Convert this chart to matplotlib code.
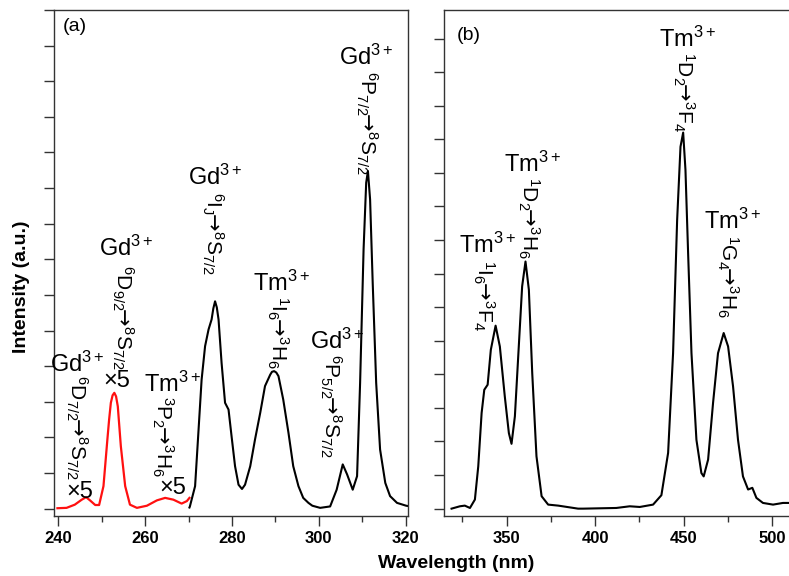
import matplotlib
matplotlib.use('Agg')
import matplotlib.pyplot as plt
from matplotlib.ticker import MultipleLocator

plt.rcParams['font.family'] = ['Liberation Sans', 'DejaVu Sans']
plt.rcParams['mathtext.fontset'] = 'custom'
plt.rcParams['mathtext.rm'] = 'Liberation Sans'
plt.rcParams['mathtext.it'] = 'Liberation Sans:italic'
plt.rcParams['mathtext.bf'] = 'Liberation Sans:bold'
plt.rcParams['mathtext.sf'] = 'DejaVu Sans'
plt.rcParams['mathtext.default'] = 'regular'

# panel (a), red part (x5)
wl_red = [239.8, 241.9, 243.8, 245.4, 246.4, 247.3, 248.5, 249.4, 250.4, 251.3, 251.7,
          252.1, 252.5, 252.9, 253.3, 253.7, 254.4, 255.4, 256.5, 258.1, 260.4, 262.7,
          264.6, 266.5, 268.4, 269.6, 270.2]
i_red = [0.01, 0.02, 0.11, 0.25, 0.32, 0.23, 0.10, 0.10, 0.63, 1.94, 2.50,
         2.97, 3.18, 3.25, 3.15, 2.87, 1.75, 0.63, 0.11, 0.02, 0.08, 0.23,
         0.30, 0.25, 0.14, 0.21, 0.30]

# panel (a), black part
wl_a = [270.2, 270.3, 271.5, 272.3, 273.0, 273.8, 274.6, 275.3, 275.7, 276.1, 276.5,
        276.9, 277.6, 278.4, 279.2, 279.9, 280.7, 281.5, 282.3, 283.0, 284.2, 285.3,
        286.5, 287.6, 288.8, 289.2, 289.7, 290.2, 290.7, 291.8, 293.0, 294.1, 295.3,
        296.4, 297.6, 298.5, 300.3, 302.6, 304.1, 305.5, 306.5, 307.8, 308.8, 309.5,
        310.3, 310.9, 311.3, 311.8, 312.4, 313.2, 314.1, 315.3, 316.4, 318.0, 320.1,
        320.6]
i_a = [0.03, 0.06, 0.63, 2.22, 3.62, 4.56, 5.03, 5.31, 5.62, 5.82, 5.65,
       5.31, 4.09, 2.97, 2.78, 2.03, 1.19, 0.67, 0.55, 0.67, 1.19, 1.94,
       2.69, 3.44, 3.76, 3.84, 3.86, 3.82, 3.72, 3.06, 2.13, 1.19, 0.63,
       0.30, 0.16, 0.08, 0.02, 0.06, 0.53, 1.24, 0.96, 0.53, 0.91, 3.53,
       7.28, 9.15, 9.48, 8.68, 6.34, 3.53, 1.66, 0.72, 0.35, 0.16, 0.08,
       0.07]

# panel (b)
wl_b = [318.9, 323.6, 326.4, 329.3, 332.1, 334.0, 335.9, 337.4, 339.3, 341.1, 343.8,
        346.2, 349.0, 351.3, 352.8, 354.7, 356.9, 358.8, 360.7, 362.6, 364.5, 366.9,
        369.8, 373.5, 379.2, 390.4, 393.3, 412.0, 419.6, 425.3, 432.8, 437.5, 441.3,
        444.1, 446.4, 448.3, 449.8, 451.1, 452.6, 454.5, 457.3, 460.1, 461.4, 463.9,
        466.7, 469.5, 472.7, 475.2, 478.0, 480.8, 483.6, 486.5, 488.9, 491.2, 494.9,
        500.6, 506.2, 509.4]
i_b = [0.00, 0.07, 0.09, 0.02, 0.27, 1.26, 2.85, 3.54, 3.69, 4.73, 5.45,
       4.83, 3.34, 2.25, 1.93, 2.75, 4.83, 6.62, 7.36, 6.52, 4.04, 1.56,
       0.37, 0.12, 0.09, 0.00, 0.00, 0.02, 0.07, 0.05, 0.12, 0.40, 1.66,
       4.63, 8.60, 10.78, 11.20, 10.09, 7.61, 4.63, 2.05, 1.06, 0.96, 1.46,
       3.15, 4.63, 5.23, 4.83, 3.64, 2.05, 0.96, 0.57, 0.62, 0.32, 0.17,
       0.12, 0.17, 0.17]


def trans(s1, l1, b1, s2, l2, b2):
    return (r'$^{%s}\mathrm{%s}_{%s}\!\!\mathsf{\rightarrow}\!^{%s}\mathrm{%s}_{%s}$'
            % (s1, l1, b1, s2, l2, b2))


GD = r'$\mathrm{Gd}^{3+}$'
TM = r'$\mathrm{Tm}^{3+}$'

# labels: (ion, x, y, transition, x, y)
labels_a = [
    (GD, 244.4, 4.05, trans('6', 'D', '7/2', '8', 'S', '7/2'), 244.3, 3.74),
    (GD, 255.7, 7.30, trans('6', 'D', '9/2', '8', 'S', '7/2'), 254.9, 6.85),
    (TM, 266.3, 3.48, trans('3', 'P', '2', '3', 'H', '6'), 264.1, 3.17),
    (GD, 276.1, 9.30, trans('6', 'I', 'J', '8', 'S', '7/2'), 275.6, 8.88),
    (TM, 291.3, 6.32, trans('1', 'I', '6', '3', 'H', '6'), 290.6, 5.98),
    (GD, 311.0, 12.68, trans('6', 'P', '7/2', '8', 'S', '7/2'), 310.9, 12.28),
    (GD, 304.2, 4.70, trans('6', 'P', '5/2', '8', 'S', '7/2'), 302.6, 4.33),
]
times5 = [(245.0, 0.47), (253.4, 3.57), (266.4, 0.58)]
labels_b = [
    (TM, 452.1, 13.99, trans('1', 'D', '2', '3', 'F', '4'), 450.1, 13.60),
    (TM, 364.6, 10.27, trans('1', 'D', '2', '3', 'H', '6'), 362.3, 9.88),
    (TM, 339.4, 7.83, trans('1', 'I', '6', '3', 'F', '4'), 337.2, 7.41),
    (TM, 477.5, 8.57, trans('1', 'G', '4', '3', 'H', '6'), 474.7, 8.15),
]

fig = plt.figure(figsize=(7.89, 5.76), dpi=100)
ax1 = fig.add_axes([0.0684, 0.1047, 0.4491, 0.8779])
ax2 = fig.add_axes([0.5631, 0.1047, 0.4400, 0.8779])

ax1.plot(wl_red, i_red, color='#ff1010', lw=1.6, solid_joinstyle='round')
ax1.plot(wl_a, i_a, color='black', lw=1.5, solid_joinstyle='round')
ax2.plot(wl_b, i_b, color='black', lw=1.5, solid_joinstyle='round')

ax1.set_xlim(239.0, 320.6)
ax1.set_ylim(-0.2, 14.0)
ax2.set_xlim(314.8, 511.0)
ax2.set_ylim(-0.21, 14.85)

ax1.xaxis.set_major_locator(MultipleLocator(20))
ax1.xaxis.set_minor_locator(MultipleLocator(10))
ax2.xaxis.set_major_locator(MultipleLocator(50))
ax2.xaxis.set_minor_locator(MultipleLocator(25))
for ax in (ax1, ax2):
    ax.yaxis.set_major_locator(MultipleLocator(1))
    ax.tick_params(axis='both', which='major', direction='out', length=7, width=1,
                   color='#333333', pad=4)
    ax.tick_params(axis='x', which='minor', direction='out', length=4, width=1,
                   color='#333333')
    ax.tick_params(axis='y', labelleft=False)
    for lab in ax.get_xticklabels():
        lab.set_fontsize(12)
        lab.set_fontweight('bold')
    for sp in ax.spines.values():
        sp.set_linewidth(1.0)
        sp.set_color('#333333')

fs = 17
fs_t = 15
for ion, xi, yi, tr, xt, yt in labels_a:
    ax1.text(xi, yi, ion, fontsize=fs, ha='center', va='center')
    ax1.text(xt, yt, tr, fontsize=fs_t, ha='center', va='top', rotation=-90)
for xm, ym in times5:
    ax1.text(xm, ym, '×5', fontsize=fs, ha='center', va='center')
for ion, xi, yi, tr, xt, yt in labels_b:
    ax2.text(xi, yi, ion, fontsize=fs, ha='center', va='center')
    ax2.text(xt, yt, tr, fontsize=fs_t, ha='center', va='top', rotation=-90)

ax1.text(241.1, 13.54, '(a)', fontsize=14, ha='left', va='center')
ax2.text(321.9, 14.09, '(b)', fontsize=14, ha='left', va='center')

fig.text(22 / 789, 1 - 287 / 576, 'Intensity (a.u.)', rotation=90, fontsize=14,
         fontweight='bold', ha='center', va='center')
fig.text(456 / 789, 1 - 563 / 576, 'Wavelength (nm)', fontsize=14,
         fontweight='bold', ha='center', va='center')

fig.savefig('out.png', dpi=100)
